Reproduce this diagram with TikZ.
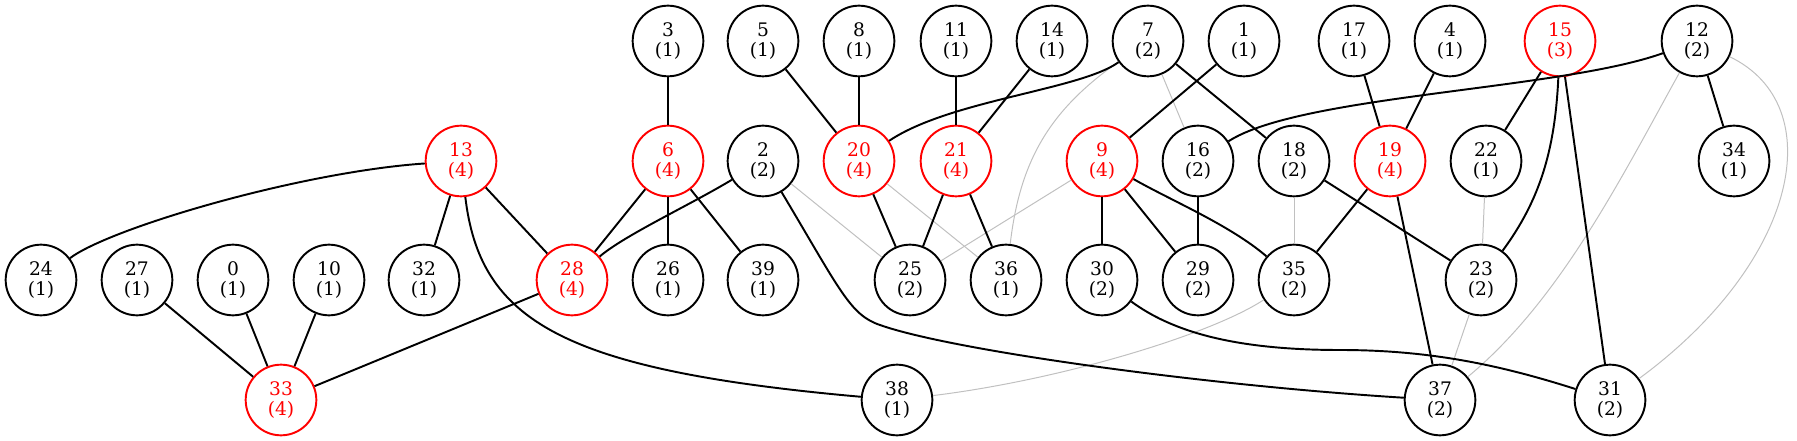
\documentclass[tikz,border=0pt]{standalone}
\usepackage{fontspec}
\setmainfont{DejaVu Serif}
\definecolor{edgegray}{HTML}{C0C0C0}
\begin{document}
\begin{tikzpicture}[x=0.75pt,y=-0.75pt,
  nd/.style={circle,draw,line width=1.45pt,minimum size=53pt,inner sep=0pt,align=center,font=\fontsize{14}{15}\selectfont},
  hot/.style={nd,draw=red,text=red},
  e/.style={line width=1.45pt},
  g/.style={line width=0.75pt,draw=edgegray}]
\useasboundingbox (0,0) rectangle (1797,441);
% row 1
\node[nd]  (n3)  at (668,41)  {3\\(1)};
\node[nd]  (n5)  at (763,41)  {5\\(1)};
\node[nd]  (n8)  at (859,41)  {8\\(1)};
\node[nd]  (n11) at (956,41)  {11\\(1)};
\node[nd]  (n14) at (1052,41) {14\\(1)};
\node[nd]  (n7)  at (1148,41) {7\\(2)};
\node[nd]  (n1)  at (1244,41) {1\\(1)};
\node[nd]  (n17) at (1354,41) {17\\(1)};
\node[nd]  (n4)  at (1450,41) {4\\(1)};
\node[hot] (n15) at (1560,41) {15\\(3)};
\node[nd]  (n12) at (1697,41) {12\\(2)};
% row 2
\node[hot] (n13) at (461,161)  {13\\(4)};
\node[hot] (n6)  at (668,161)  {6\\(4)};
\node[nd]  (n2)  at (763,161)  {2\\(2)};
\node[hot] (n20) at (859,161)  {20\\(4)};
\node[hot] (n21) at (956,161)  {21\\(4)};
\node[hot] (n9)  at (1102,161) {9\\(4)};
\node[nd]  (n16) at (1198,161) {16\\(2)};
\node[nd]  (n18) at (1294,161) {18\\(2)};
\node[hot] (n19) at (1390,161) {19\\(4)};
\node[nd]  (n22) at (1486,161) {22\\(1)};
\node[nd]  (n34) at (1734,161) {34\\(1)};
% row 3
\node[nd]  (n24) at (41,280)   {24\\(1)};
\node[nd]  (n27) at (137,280)  {27\\(1)};
\node[nd]  (n0)  at (233,280)  {0\\(1)};
\node[nd]  (n10) at (329,280)  {10\\(1)};
\node[nd]  (n32) at (424,280)  {32\\(1)};
\node[hot] (n28) at (572,280)  {28\\(4)};
\node[nd]  (n26) at (668,280)  {26\\(1)};
\node[nd]  (n39) at (763,280)  {39\\(1)};
\node[nd]  (n25) at (910,280)  {25\\(2)};
\node[nd]  (n36) at (1006,280) {36\\(1)};
\node[nd]  (n30) at (1102,280) {30\\(2)};
\node[nd]  (n29) at (1198,280) {29\\(2)};
\node[nd]  (n35) at (1294,280) {35\\(2)};
\node[nd]  (n23) at (1481,280) {23\\(2)};
% row 4
\node[hot] (n33) at (281,400)  {33\\(4)};
\node[nd]  (n38) at (897,400)  {38\\(1)};
\node[nd]  (n37) at (1440,400) {37\\(2)};
\node[nd]  (n31) at (1610,400) {31\\(2)};
% gray edges
\draw[g] (n2) -- (n25);
\draw[g] (n20) -- (n36);
\draw[g] (n9) -- (n25);
\draw[g] (n7) .. controls (1050,110) and (1020,160) .. (n36);
\draw[g] (n7) -- (n16);
\draw[g] (n18) -- (n35);
\draw[g] (n35) .. controls (1210,335) and (1060,380) .. (n38);
\draw[g] (n22) -- (n23);
\draw[g] (n23) -- (n37);
\draw[g] (n12) .. controls (1620,180) and (1560,300) .. (n37);
\draw[g] (n12) .. controls (1830,105) and (1800,260) .. (n31);
% black edges
\draw[e] (n13) .. controls (300,172) and (110,228) .. (n24);
\draw[e] (n13) -- (n32);
\draw[e] (n13) -- (n28);
\draw[e] (n13) .. controls (480,320) and (560,370) .. (n38);
\draw[e] (n28) -- (n33);
\draw[e] (n27) -- (n33);
\draw[e] (n0) -- (n33);
\draw[e] (n10) -- (n33);
\draw[e] (n3) -- (n6);
\draw[e] (n6) -- (n28);
\draw[e] (n6) -- (n26);
\draw[e] (n6) -- (n39);
\draw[e] (n2) .. controls (690,205) and (625,235) .. (n28);
\draw[e] (n2) .. controls (840,290) and (850,315) .. (880,325) .. controls (950,350) and (1200,385) .. (n37);
\draw[e] (n5) -- (n20);
\draw[e] (n8) -- (n20);
\draw[e] (n7) .. controls (1080,90) and (950,100) .. (n20);
\draw[e] (n20) -- (n25);
\draw[e] (n11) -- (n21);
\draw[e] (n14) -- (n21);
\draw[e] (n21) -- (n25);
\draw[e] (n21) -- (n36);
\draw[e] (n1) -- (n9);
\draw[e] (n9) -- (n30);
\draw[e] (n9) -- (n29);
\draw[e] (n9) .. controls (1170,200) and (1230,225) .. (n35);
\draw[e] (n16) -- (n29);
\draw[e] (n7) -- (n18);
\draw[e] (n18) -- (n23);
\draw[e] (n12) .. controls (1560,90) and (1300,95) .. (n16);
\draw[e] (n17) -- (n19);
\draw[e] (n4) -- (n19);
\draw[e] (n19) -- (n35);
\draw[e] (n19) -- (n37);
\draw[e] (n15) -- (n22);
\draw[e] (n15) .. controls (1555,150) and (1540,200) .. (n23);
\draw[e] (n15) -- (n31);
\draw[e] (n12) -- (n34);
\draw[e] (n30) .. controls (1170,330) and (1230,350) .. (1340,350) .. controls (1430,350) and (1500,365) .. (n31);
\end{tikzpicture}
\end{document}
